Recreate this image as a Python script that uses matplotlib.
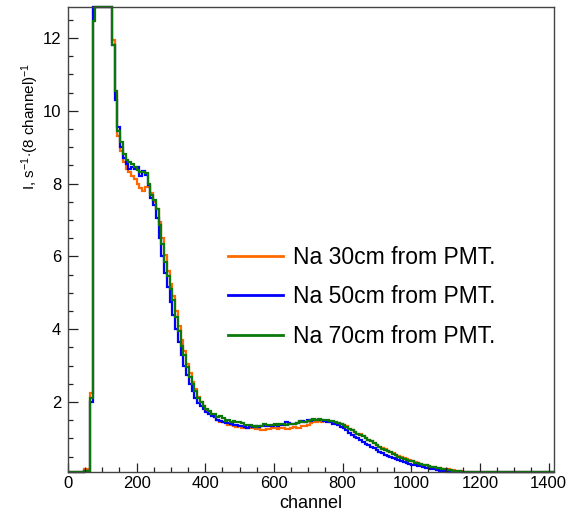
import numpy as np
import matplotlib
matplotlib.use("Agg")
import matplotlib.pyplot as plt
from matplotlib.ticker import MultipleLocator

plt.rcParams["font.family"] = ["Liberation Sans", "DejaVu Sans"]
plt.rcParams["mathtext.fontset"] = "custom"
plt.rcParams["mathtext.rm"] = "Liberation Sans"
plt.rcParams["mathtext.it"] = "Liberation Sans:italic"

# гистограммы: бины по 8 каналов, заполненные начиная с канала 48
BIN_WIDTH = 8
FIRST_BIN = 48
N_CHANNELS = 1416
YMIN, YMAX = 0.08, 12.85

labels = ["Na 30cm from PMT.", "Na 50cm from PMT.", "Na 70cm from PMT."]
colors = ["#ff6a00", "#0000ff", "#0b780b"]

na_30cm = [
    0.15, 0.15, 2.25, 13.7, 14.0, 14.7, 15.4, 15.7,
    15.3, 14.2, 11.95, 10.50, 9.30, 8.90, 8.58, 8.40,
    8.33, 8.20, 8.12, 8.00, 7.88, 7.80, 7.92, 7.90,
    7.75, 7.50, 7.30, 6.95, 6.50, 6.05, 5.60, 5.25,
    4.90, 4.50, 4.10, 3.70, 3.40, 3.05, 2.80, 2.55,
    2.35, 2.15, 2.00, 1.88, 1.78, 1.70, 1.64, 1.58,
    1.52, 1.45, 1.44, 1.42, 1.38, 1.36, 1.33, 1.31,
    1.35, 1.30, 1.32, 1.28, 1.30, 1.29, 1.27, 1.25,
    1.24, 1.22, 1.25, 1.27, 1.28, 1.28, 1.26, 1.30,
    1.28, 1.27, 1.25, 1.30, 1.31, 1.28, 1.30, 1.33,
    1.35, 1.38, 1.42, 1.44, 1.46, 1.47, 1.46, 1.47,
    1.48, 1.45, 1.46, 1.43, 1.42, 1.40, 1.37, 1.33,
    1.27, 1.23, 1.18, 1.13, 1.11, 1.07, 1.02, 0.97,
    0.93, 0.88, 0.83, 0.78, 0.74, 0.70, 0.66, 0.63,
    0.60, 0.56, 0.52, 0.49, 0.46, 0.44, 0.41, 0.38,
    0.35, 0.33, 0.31, 0.28, 0.26, 0.24, 0.23, 0.21,
    0.20, 0.18, 0.17, 0.16, 0.15, 0.14, 0.13, 0.12,
    0.11, 0.10, 0.09, 0.08,
]

na_50cm = [
    0.10, 0.12, 2.00, 13.5, 13.8, 14.6, 15.3, 15.6,
    15.2, 14.1, 11.80, 10.30, 9.55, 9.00, 8.70, 8.55,
    8.40, 8.45, 8.40, 8.45, 8.20, 8.35, 8.25, 7.95,
    7.60, 7.40, 7.05, 6.50, 6.00, 5.55, 5.15, 4.75,
    4.40, 4.00, 3.65, 3.30, 3.00, 2.75, 2.50, 2.30,
    2.12, 1.98, 1.88, 1.80, 1.72, 1.68, 1.62, 1.58,
    1.52, 1.48, 1.46, 1.42, 1.43, 1.40, 1.38, 1.36,
    1.35, 1.33, 1.32, 1.30, 1.33, 1.31, 1.34, 1.32,
    1.33, 1.35, 1.34, 1.33, 1.34, 1.36, 1.35, 1.36,
    1.38, 1.44, 1.42, 1.41, 1.40, 1.43, 1.45, 1.48,
    1.46, 1.50, 1.48, 1.50, 1.51, 1.50, 1.51, 1.49,
    1.46, 1.44, 1.41, 1.40, 1.36, 1.32, 1.28, 1.22,
    1.16, 1.10, 1.05, 1.00, 0.95, 0.90, 0.86, 0.82,
    0.78, 0.73, 0.68, 0.64, 0.60, 0.56, 0.53, 0.49,
    0.46, 0.43, 0.40, 0.37, 0.35, 0.32, 0.30, 0.28,
    0.27, 0.25, 0.24, 0.22, 0.20, 0.18, 0.17, 0.15,
    0.14, 0.12, 0.11, 0.10, 0.09, 0.09, 0.08, 0.08,
    0.07, 0.07, 0.06, 0.06,
]

na_70cm = [
    0.10, 0.12, 2.10, 12.47, 13.6, 14.5, 15.2, 15.5,
    15.1, 14.0, 11.80, 10.55, 9.45, 9.15, 8.80, 8.65,
    8.60, 8.55, 8.45, 8.38, 8.33, 8.32, 8.28, 8.00,
    7.70, 7.55, 7.30, 6.85, 6.35, 5.85, 5.45, 5.10,
    4.80, 4.35, 3.95, 3.55, 3.30, 2.95, 2.70, 2.50,
    2.30, 2.12, 2.00, 1.90, 1.82, 1.75, 1.68, 1.66,
    1.60, 1.62, 1.55, 1.48, 1.50, 1.46, 1.47, 1.45,
    1.46, 1.42, 1.38, 1.36, 1.37, 1.33, 1.32, 1.34,
    1.33, 1.39, 1.38, 1.38, 1.37, 1.39, 1.38, 1.40,
    1.39, 1.38, 1.41, 1.40, 1.39, 1.42, 1.47, 1.45,
    1.44, 1.48, 1.52, 1.53, 1.51, 1.53, 1.50, 1.52,
    1.50, 1.47, 1.48, 1.45, 1.42, 1.40, 1.36, 1.32,
    1.27, 1.22, 1.17, 1.13, 1.10, 1.06, 1.01, 0.96,
    0.92, 0.87, 0.82, 0.77, 0.72, 0.69, 0.65, 0.62,
    0.58, 0.54, 0.50, 0.47, 0.44, 0.41, 0.39, 0.37,
    0.34, 0.32, 0.30, 0.28, 0.26, 0.24, 0.22, 0.21,
    0.20, 0.18, 0.17, 0.15, 0.14, 0.13, 0.12, 0.11,
    0.10, 0.09, 0.09, 0.08,
]

edges = np.arange(0, N_CHANNELS + BIN_WIDTH, BIN_WIDTH)


def full_hist(vals):
    h = np.zeros(len(edges) - 1)
    i0 = FIRST_BIN // BIN_WIDTH
    h[i0:i0 + len(vals)] = vals
    # как в ROOT: всё, что вне диапазона, рисуется по краю рамки
    return np.clip(h, YMIN, YMAX)


fig = plt.figure(figsize=(5.76, 5.14), dpi=100)
ax = fig.add_axes([68 / 576, 42 / 514, 486 / 576, 465 / 514])

for vals, color, label in zip([na_30cm, na_50cm, na_70cm], colors, labels):
    ax.stairs(full_hist(vals), edges, color=color, lw=1.6, label=label,
              baseline=None, clip_on=False)

ax.set_xlim(0, N_CHANNELS)
ax.set_ylim(YMIN, YMAX)

ax.xaxis.set_major_locator(MultipleLocator(200))
ax.xaxis.set_minor_locator(MultipleLocator(50))
ax.yaxis.set_major_locator(MultipleLocator(2))
ax.yaxis.set_minor_locator(MultipleLocator(0.5))
ax.tick_params(which="both", direction="in", top=False, right=False,
               labelsize=12, color="#222222", width=0.9)
ax.tick_params(axis="x", which="major", length=6.5, pad=3)
ax.tick_params(axis="x", which="minor", length=3.5)
ax.tick_params(axis="y", which="major", length=7, pad=5)
ax.tick_params(axis="y", which="minor", length=3.5)
for sp in ax.spines.values():
    sp.set_color("#444444")
    sp.set_linewidth(1.0)

fig.text(311 / 576, 1 - 504 / 514, "channel", fontsize=13,
         ha="center", va="center")
fig.text(30 / 576, 1 - 63 / 514, r"I, s$^{-1}$$\cdot$(8 channel)$^{-1}$",
         fontsize=11, rotation=90, ha="center", va="top")

leg = ax.legend(loc="center left", bbox_to_anchor=(228 / 576, 1 - 297 / 514),
                bbox_transform=fig.transFigure, frameon=False, fontsize=16.5,
                handlelength=2.4, handletextpad=0.45, labelspacing=0.7,
                borderpad=0, borderaxespad=0)
for line in leg.get_lines():
    line.set_linewidth(2.0)

fig.savefig("out.png", dpi=100)
